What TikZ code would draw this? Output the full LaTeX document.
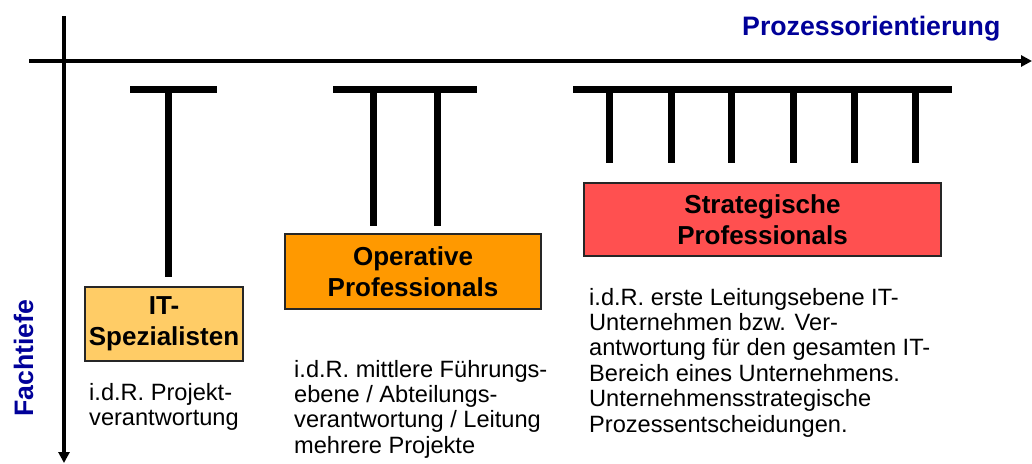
\documentclass[tikz,border=0pt]{standalone}
\usepackage{fontspec}
\setmainfont{Liberation Sans}
\usetikzlibrary{arrows.meta}
\definecolor{axisblue}{RGB}{0,0,153}
\definecolor{specfill}{RGB}{255,204,102}
\definecolor{opfill}{RGB}{255,153,0}
\definecolor{stratfill}{RGB}{255,80,80}
\tikzset{
  rolebox/.style={draw=black!85, line width=1.2pt, inner sep=0pt, align=center,
    font=\fontsize{26}{31}\selectfont\bfseries},
  % multi-line nodes: the base anchor sits on the last line
  desc/.style={inner sep=0pt, align=left, anchor=base west,
    font=\fontsize{23.6}{25.4}\selectfont},
  axislabel/.style={inner sep=0pt, text=axisblue,
    font=\fontsize{26.7}{31}\selectfont\bfseries},
  axisline/.style={line width=4pt, -{Triangle[width=11pt,length=11pt]}},
  tbar/.style={line width=7pt},
}
\begin{document}
\begin{tikzpicture}[x=1pt,y=-1pt]
\useasboundingbox (0,0) rectangle (1032,463);

% axes
\coordinate (vstart) at (64,16);
\coordinate (vend) at (64,463);
\coordinate (hstart) at (29,61);
\coordinate (hend) at (1032,61);
\draw[axisline] (vstart) -- (vend);
\draw[axisline] (hstart) -- (hend);

\node[axislabel, anchor=base west] (proc) at (742,35) {Prozessorientierung};
\node[axislabel, rotate=90, anchor=base west] (depth) at (33,417) {Fachtiefe};

% single T
\draw[tbar] (130,89.5) -- (217,89.5);
\draw[tbar] (168,89.5) -- (168,277);

% double T
\draw[tbar] (333,89.5) -- (477,89.5);
\foreach \sx in {373.5,437}
  \draw[tbar] (\sx,89.5) -- (\sx,226);

% comb
\draw[tbar] (573,89.5) -- (952,89.5);
\foreach \sx in {609.5,671,731.5,793,854.5,915.5}
  \draw[tbar] (\sx,89.5) -- (\sx,163);

% role boxes
\node[rolebox, fill=specfill, minimum width=158pt, minimum height=74pt]
  (spec) at (164,324) {IT-\\Spezialisten};
\node[rolebox, fill=opfill, minimum width=256pt, minimum height=75pt]
  (oper) at (413,271.5) {Operative\\Professionals};
\node[rolebox, fill=stratfill, minimum width=357pt, minimum height=73pt]
  (strat) at (762.5,219.5) {Strategische\\Professionals};

% descriptions (positioned by the baseline of their last line)
\node[desc] (specdesc) at (89,425.4) {i.d.R. Projekt-\\verantwortung};
\node[desc] (operdesc) at (294,453.2) {i.d.R. mittlere Führungs-\\ebene / Abteilungs-\\verantwortung / Leitung\\mehrere Projekte};
\node[desc] (stratdesc) at (589,432) {i.d.R. erste Leitungsebene IT-\\Unternehmen bzw. Ver-\\antwortung für den gesamten IT-\\Bereich eines Unternehmens.\\Unternehmensstrategische\\Prozessentscheidungen.};
\end{tikzpicture}
\end{document}
